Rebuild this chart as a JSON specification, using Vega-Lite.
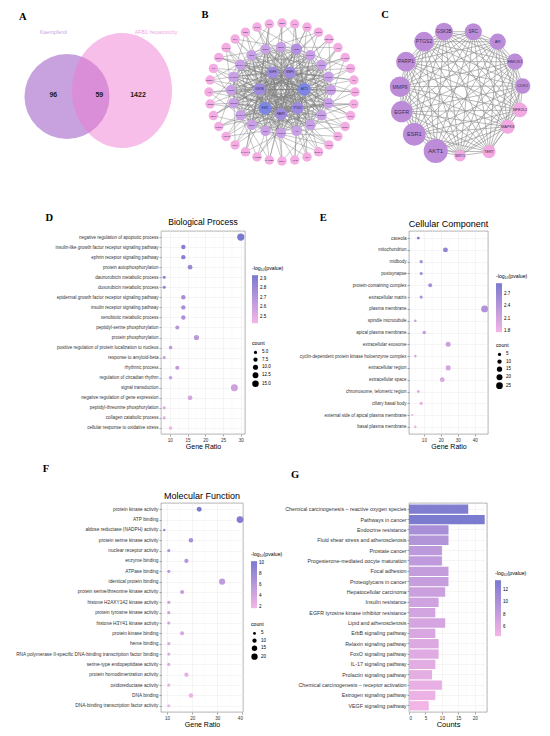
{
"$schema": "https://vega.github.io/schema/vega-lite/v6.json",
"background": "white",
"padding": 0,
"bounds": "flush",
"align": "none",
"columns": 4,
"spacing": 0,
"resolve": {"scale": {"color": "independent", "size": "independent"}},
"config": {
 "view": {"stroke": null},
 "font": "Liberation Sans",
 "concat": {"spacing": 0},
 "axis": {"labelFont": "Liberation Sans", "labelFontSize": 4.6, "labelColor": "#333333", "tickColor": "#4d4d4d", "tickSize": 2, "tickWidth": 0.5, "domain": false, "gridColor": "#ebebeb", "gridWidth": 0.5, "titleFont": "Liberation Sans", "titleFontWeight": "normal", "titleFontSize": 7, "titleColor": "#000", "labelPadding": 1, "titlePadding": 1},
 "legend": {"labelFont": "Liberation Sans", "titleFont": "Liberation Sans", "labelFontSize": 4.5, "titleFontSize": 5.2, "titleFontWeight": "normal", "titleColor": "#000", "labelColor": "#000", "gradientThickness": 6, "gradientStrokeWidth": 0, "titlePadding": 4, "labelOffset": 3},
 "title": {"font": "Liberation Sans", "fontWeight": "normal", "fontSize": 8.5, "color": "#000", "anchor": "middle"}
},
"datasets": {
 "bn": [
  {"id":"PTK2","x":355,"y":92,"g":"o","nb":["NFE2L2","AKT1","MMP9","NQO1"]},
  {"id":"CA2","x":353.9,"y":104,"g":"o","nb":["NQO1","ESR1","PTGS2","CCND1"]},
  {"id":"PIM1","x":350.6,"y":115.6,"g":"o","nb":["NQO1","EGFR","GSK3B","SIRT1"]},
  {"id":"TOP2A","x":345.2,"y":126.5,"g":"o","nb":["CCND1","MMP9","PARP1","AR"]},
  {"id":"NOX4","x":337.9,"y":136.4,"g":"o","nb":["CCND1","PTGS2","AKT1","HMOX1"]},
  {"id":"ALOX5","x":328.9,"y":144.9,"g":"o","nb":["SIRT1","GSK3B","ESR1","PGR"]},
  {"id":"SLC2A1","x":318.5,"y":151.8,"g":"o","nb":["SIRT1","PARP1","EGFR","TERT"]},
  {"id":"XDH","x":307,"y":156.9,"g":"o","nb":["AR","AKT1","MMP9","CYP1A1"]},
  {"id":"ACHE","x":294.7,"y":160,"g":"o","nb":["AR","ESR1","PTGS2","NQO1"]},
  {"id":"DPP4","x":282,"y":161,"g":"o","nb":["HMOX1","EGFR","GSK3B","CCND1"]},
  {"id":"CYP1B1","x":269.3,"y":160,"g":"o","nb":["PGR","MMP9","PARP1","ABCG2"]},
  {"id":"AKR1B1","x":257,"y":156.9,"g":"o","nb":["PGR","PTGS2","AKT1","MMP2"]},
  {"id":"CYP19A1","x":245.5,"y":151.8,"g":"o","nb":["TERT","GSK3B","ESR1","HMOX1"]},
  {"id":"PLK1","x":235.1,"y":144.9,"g":"o","nb":["TERT","PARP1","EGFR","MAPK8"]},
  {"id":"AURKB","x":226.1,"y":136.4,"g":"o","nb":["CYP1A1","AKT1","MMP9","PGR"]},
  {"id":"CHEK1","x":218.8,"y":126.5,"g":"o","nb":["CYP1A1","ESR1","PTGS2","HSP90AA1"]},
  {"id":"CDK6","x":213.4,"y":115.6,"g":"o","nb":["ABCG2","EGFR","GSK3B","TERT"]},
  {"id":"ABCB1","x":210.1,"y":104,"g":"o","nb":["ABCG2","MMP9","PARP1","MET"]},
  {"id":"AHR","x":209,"y":92,"g":"o","nb":["MMP2","PTGS2","AKT1","CYP1A1"]},
  {"id":"ESRRA","x":210.1,"y":80,"g":"o","nb":["MAPK8","GSK3B","ESR1","SGK1"]},
  {"id":"F2","x":213.4,"y":68.4,"g":"o","nb":["MAPK8","PARP1","EGFR","ABCG2"]},
  {"id":"ADORA1","x":218.8,"y":57.5,"g":"o","nb":["HSP90AA1","AKT1","MMP9","CDK1"]},
  {"id":"CYP1A2","x":226.1,"y":47.6,"g":"o","nb":["HSP90AA1","ESR1","PTGS2","MMP2"]},
  {"id":"SYK","x":235.1,"y":39.1,"g":"o","nb":["MET","EGFR","GSK3B","SRC"]},
  {"id":"INSR","x":245.5,"y":32.2,"g":"o","nb":["MET","MMP9","PARP1","MAPK8"]},
  {"id":"GLO1","x":257,"y":27.1,"g":"o","nb":["SGK1","PTGS2","AKT1","PIK3CA"]},
  {"id":"MPO","x":269.3,"y":24,"g":"o","nb":["SGK1","GSK3B","ESR1","HSP90AA1"]},
  {"id":"SELE","x":282,"y":23,"g":"o","nb":["CDK1","PARP1","EGFR","CDK2"]},
  {"id":"TYR","x":294.7,"y":24,"g":"o","nb":["SRC","AKT1","MMP9","MET"]},
  {"id":"CD38","x":307,"y":27.1,"g":"o","nb":["SRC","ESR1","PTGS2","IGF1R"]},
  {"id":"BCL2","x":318.5,"y":32.2,"g":"o","nb":["PIK3CA","EGFR","GSK3B","SGK1"]},
  {"id":"HSD17B1","x":328.9,"y":39.1,"g":"o","nb":["PIK3CA","MMP9","PARP1","NFE2L2"]},
  {"id":"ALPL","x":337.9,"y":47.6,"g":"o","nb":["CDK2","PTGS2","AKT1","CDK1"]},
  {"id":"CYP2C9","x":345.2,"y":57.5,"g":"o","nb":["CDK2","GSK3B","ESR1","NQO1"]},
  {"id":"PRKCA","x":350.6,"y":68.4,"g":"o","nb":["IGF1R","PARP1","EGFR","SRC"]},
  {"id":"KIT","x":353.9,"y":80,"g":"o","nb":["IGF1R","AKT1","MMP9","CCND1"]},
  {"id":"NFE2L2","x":331,"y":90,"g":"m","nb":["HMOX1","ABCG2","SIRT1","TERT"]},
  {"id":"NQO1","x":328.6,"y":103.3,"g":"m","nb":["PGR","MMP2","AR","CYP1A1"]},
  {"id":"CCND1","x":321.5,"y":115.3,"g":"m","nb":["TERT","MAPK8","HMOX1","ABCG2"]},
  {"id":"SIRT1","x":310.4,"y":124.8,"g":"m","nb":["CYP1A1","HSP90AA1","PGR","MMP2"]},
  {"id":"AR","x":296.5,"y":130.9,"g":"m","nb":["ABCG2","MET","TERT","MAPK8"]},
  {"id":"HMOX1","x":281,"y":133,"g":"m","nb":["MMP2","SGK1","CYP1A1","HSP90AA1"]},
  {"id":"PGR","x":265.5,"y":130.9,"g":"m","nb":["MAPK8","CDK1","ABCG2","MET"]},
  {"id":"TERT","x":251.6,"y":124.8,"g":"m","nb":["HSP90AA1","SRC","MMP2","SGK1"]},
  {"id":"CYP1A1","x":240.5,"y":115.3,"g":"m","nb":["MET","PIK3CA","MAPK8","CDK1"]},
  {"id":"ABCG2","x":233.4,"y":103.3,"g":"m","nb":["SGK1","CDK2","HSP90AA1","SRC"]},
  {"id":"MMP2","x":231,"y":90,"g":"m","nb":["CDK1","IGF1R","MET","PIK3CA"]},
  {"id":"MAPK8","x":233.4,"y":76.7,"g":"m","nb":["SRC","NFE2L2","SGK1","CDK2"]},
  {"id":"HSP90AA1","x":240.5,"y":64.7,"g":"m","nb":["PIK3CA","NQO1","CDK1","IGF1R"]},
  {"id":"MET","x":251.6,"y":55.2,"g":"m","nb":["CDK2","CCND1","SRC","NFE2L2"]},
  {"id":"SGK1","x":265.5,"y":49.1,"g":"m","nb":["IGF1R","SIRT1","PIK3CA","NQO1"]},
  {"id":"CDK1","x":281,"y":47,"g":"m","nb":["NFE2L2","AR","CDK2","CCND1"]},
  {"id":"SRC","x":296.5,"y":49.1,"g":"m2","nb":["NQO1","HMOX1","IGF1R","SIRT1"]},
  {"id":"PIK3CA","x":310.4,"y":55.2,"g":"m","nb":["CCND1","PGR","NFE2L2","AR"]},
  {"id":"CDK2","x":321.5,"y":64.7,"g":"m","nb":["SIRT1","TERT","NQO1","HMOX1"]},
  {"id":"IGF1R","x":328.6,"y":76.7,"g":"m","nb":["AR","CYP1A1","CCND1","PGR"]},
  {"id":"AKT1","x":304.3,"y":89.3,"g":"h","nb":["NFE2L2","NQO1","CCND1","SIRT1","AR","HMOX1","PGR","TERT","CYP1A1","ABCG2","MMP2","MAPK8","HSP90AA1","MET","SGK1","CDK1","SRC","PIK3CA","CDK2","IGF1R","ESR1","EGFR","MMP9","GSK3B","PTGS2","PARP1"]},
  {"id":"ESR1","x":265,"y":108.3,"g":"h","nb":["NFE2L2","NQO1","CCND1","SIRT1","AR","HMOX1","PGR","TERT","CYP1A1","ABCG2","MMP2","MAPK8","HSP90AA1","MET","SGK1","CDK1","SRC","PIK3CA","CDK2","IGF1R","EGFR","MMP9","GSK3B","PTGS2","PARP1"]},
  {"id":"EGFR","x":272.7,"y":72.5,"g":"i","nb":["NFE2L2","NQO1","CCND1","SIRT1","AR","HMOX1","PGR","TERT","CYP1A1","ABCG2","MMP2","MAPK8","HSP90AA1","MET","SGK1","CDK1","SRC","PIK3CA","CDK2","IGF1R","MMP9","GSK3B","PTGS2","PARP1"]},
  {"id":"MMP9","x":290,"y":72.5,"g":"i","nb":["NFE2L2","NQO1","CCND1","SIRT1","AR","HMOX1","PGR","TERT","CYP1A1","ABCG2","MMP2","MAPK8","HSP90AA1","MET","SGK1","CDK1","SRC","PIK3CA","CDK2","IGF1R","GSK3B","PTGS2","PARP1"]},
  {"id":"GSK3B","x":259.5,"y":89.3,"g":"i","nb":["NFE2L2","NQO1","CCND1","SIRT1","AR","HMOX1","PGR","TERT","CYP1A1","ABCG2","MMP2","MAPK8","HSP90AA1","MET","SGK1","CDK1","SRC","PIK3CA","CDK2","IGF1R","PTGS2","PARP1"]},
  {"id":"PTGS2","x":297.7,"y":108.3,"g":"i","nb":["NFE2L2","NQO1","CCND1","SIRT1","AR","HMOX1","PGR","TERT","CYP1A1","ABCG2","MMP2","MAPK8","HSP90AA1","MET","SGK1","CDK1","SRC","PIK3CA","CDK2","IGF1R","PARP1"]},
  {"id":"PARP1","x":281,"y":114,"g":"i","nb":["NFE2L2","NQO1","CCND1","SIRT1","AR","HMOX1","PGR","TERT","CYP1A1","ABCG2","MMP2","MAPK8","HSP90AA1","MET","SGK1","CDK1","SRC","PIK3CA","CDK2","IGF1R"]}
 ],
 "cn": [
  {"id":"GSK3B","x":444,"y":31.7,"deg":10,"g":"p","nb":["SRC","AR","HMOX1","CDK2","NFE2L2","MAPK8","TERT","SIRT1","AKT1","ESR1","EGFR","MMP9","PARP1","PTGS2"]},
  {"id":"SRC","x":473.3,"y":31.7,"deg":9.5,"g":"p","nb":["AR","HMOX1","CDK2","NFE2L2","MAPK8","TERT","SIRT1","AKT1","ESR1","EGFR","MMP9","PARP1","PTGS2"]},
  {"id":"AR","x":497.7,"y":41.7,"deg":9,"g":"p","nb":["HMOX1","CDK2","NFE2L2","MAPK8","TERT","SIRT1","AKT1","ESR1","EGFR","MMP9","PARP1","PTGS2"]},
  {"id":"HMOX1","x":515,"y":61.7,"deg":9,"g":"p","nb":["CDK2","NFE2L2","MAPK8","TERT","SIRT1","AKT1","ESR1","EGFR","MMP9","PARP1","PTGS2"]},
  {"id":"CDK2","x":522.7,"y":86,"deg":8.6,"g":"p","nb":["NFE2L2","MAPK8","TERT","SIRT1","AKT1","ESR1","EGFR","MMP9","PARP1","PTGS2"]},
  {"id":"NFE2L2","x":520,"y":110,"deg":8.2,"g":"k","nb":["MAPK8","TERT","SIRT1","AKT1","ESR1","EGFR","MMP9","PARP1","PTGS2"]},
  {"id":"MAPK8","x":507.7,"y":126.7,"deg":8,"g":"k","nb":["TERT","SIRT1","AKT1","ESR1","EGFR","MMP9","PARP1","PTGS2"]},
  {"id":"TERT","x":489,"y":151.7,"deg":7.6,"g":"k","nb":["SIRT1","AKT1","ESR1","EGFR","MMP9","PARP1","PTGS2"]},
  {"id":"SIRT1","x":460,"y":155.7,"deg":7,"g":"k","nb":["AKT1","ESR1","EGFR","MMP9","PARP1","PTGS2"]},
  {"id":"AKT1","x":435.7,"y":151,"deg":14,"g":"p","nb":["ESR1","EGFR","MMP9","PARP1","PTGS2"]},
  {"id":"ESR1","x":414.3,"y":134.3,"deg":13,"g":"p","nb":["EGFR","MMP9","PARP1","PTGS2"]},
  {"id":"EGFR","x":401.7,"y":111.7,"deg":12,"g":"p","nb":["MMP9","PARP1","PTGS2"]},
  {"id":"MMP9","x":400,"y":86.7,"deg":11.5,"g":"p","nb":["PARP1","PTGS2"]},
  {"id":"PARP1","x":406,"y":61.7,"deg":11,"g":"p","nb":["PTGS2"]},
  {"id":"PTGS2","x":424,"y":41.7,"deg":11,"g":"p","nb":[]}
 ],
 "bp": [
  {"term":"negative regulation of apoptotic process","ratio":30.0,"count":18,"lp":2.94},
  {"term":"insulin-like growth factor receptor signaling pathway","ratio":13.8,"count":8,"lp":2.9},
  {"term":"ephrin receptor signaling pathway","ratio":13.8,"count":8,"lp":2.88},
  {"term":"protein autophosphorylation","ratio":15.7,"count":9,"lp":2.8},
  {"term":"daunorubicin metabolic process","ratio":8.4,"count":5,"lp":2.86},
  {"term":"doxorubicin metabolic process","ratio":8.4,"count":5,"lp":2.86},
  {"term":"epidermal growth factor receptor signaling pathway","ratio":13.8,"count":8,"lp":2.76},
  {"term":"insulin receptor signaling pathway","ratio":13.8,"count":8,"lp":2.76},
  {"term":"xenobiotic metabolic process","ratio":13.8,"count":8,"lp":2.74},
  {"term":"peptidyl-serine phosphorylation","ratio":12.1,"count":7,"lp":2.7},
  {"term":"protein phosphorylation","ratio":17.5,"count":10,"lp":2.68},
  {"term":"positive regulation of protein localization to nucleus","ratio":10.2,"count":6,"lp":2.66},
  {"term":"response to amyloid-beta","ratio":8.4,"count":5,"lp":2.62},
  {"term":"rhythmic process","ratio":12.1,"count":7,"lp":2.66},
  {"term":"regulation of circadian rhythm","ratio":10.2,"count":6,"lp":2.62},
  {"term":"signal transduction","ratio":28.2,"count":17,"lp":2.6},
  {"term":"negative regulation of gene expression","ratio":15.7,"count":9,"lp":2.56},
  {"term":"peptidyl-threonine phosphorylation","ratio":8.4,"count":5,"lp":2.52},
  {"term":"collagen catabolic process","ratio":8.4,"count":5,"lp":2.5},
  {"term":"cellular response to oxidative stress","ratio":10.2,"count":6,"lp":2.45}
 ],
 "cc": [
  {"term":"caveola","ratio":6.7,"count":4,"lp":2.95},
  {"term":"mitochondrion","ratio":22.7,"count":13,"lp":2.75},
  {"term":"midbody","ratio":8.4,"count":5,"lp":2.62},
  {"term":"postsynapse","ratio":8.4,"count":5,"lp":2.6},
  {"term":"protein-containing complex","ratio":13.7,"count":8,"lp":2.55},
  {"term":"extracellular matrix","ratio":8.4,"count":5,"lp":2.5},
  {"term":"plasma membrane","ratio":45.8,"count":27,"lp":2.45},
  {"term":"spindle microtubule","ratio":4.9,"count":3,"lp":2.2},
  {"term":"apical plasma membrane","ratio":10.2,"count":6,"lp":2.3},
  {"term":"extracellular exosome","ratio":24.3,"count":14,"lp":2.2},
  {"term":"cyclin-dependent protein kinase holoenzyme complex","ratio":4.9,"count":3,"lp":2.05},
  {"term":"extracellular region","ratio":24.3,"count":14,"lp":2.1},
  {"term":"extracellular space","ratio":20.8,"count":12,"lp":2.05},
  {"term":"chromosome, telomeric region","ratio":6.7,"count":4,"lp":1.95},
  {"term":"ciliary basal body","ratio":8.4,"count":5,"lp":1.9},
  {"term":"external side of apical plasma membrane","ratio":3.1,"count":2,"lp":1.85},
  {"term":"basal plasma membrane","ratio":4.9,"count":3,"lp":1.8}
 ],
 "mf": [
  {"term":"protein kinase activity","ratio":22.8,"count":13,"lp":10.2},
  {"term":"ATP binding","ratio":39.0,"count":23,"lp":9.8},
  {"term":"aldose reductase (NADPH) activity","ratio":8.9,"count":4,"lp":8.5},
  {"term":"protein serine kinase activity","ratio":19.5,"count":11,"lp":7.2},
  {"term":"nuclear receptor activity","ratio":10.7,"count":6,"lp":6.5},
  {"term":"enzyme binding","ratio":17.7,"count":10,"lp":6.2},
  {"term":"ATPase binding","ratio":10.7,"count":6,"lp":6.0},
  {"term":"identical protein binding","ratio":31.9,"count":19,"lp":5.6},
  {"term":"protein serine/threonine kinase activity","ratio":16.0,"count":9,"lp":5.2},
  {"term":"histone H2AXY142 kinase activity","ratio":10.7,"count":6,"lp":4.6},
  {"term":"protein tyrosine kinase activity","ratio":10.7,"count":6,"lp":4.4},
  {"term":"histone H3Y41 kinase activity","ratio":10.7,"count":6,"lp":4.2},
  {"term":"protein kinase binding","ratio":16.0,"count":9,"lp":3.8},
  {"term":"heme binding","ratio":10.7,"count":6,"lp":3.5},
  {"term":"RNA polymerase II-specific DNA-binding transcription factor binding","ratio":10.7,"count":6,"lp":3.3},
  {"term":"serine-type endopeptidase activity","ratio":10.7,"count":6,"lp":3.1},
  {"term":"protein homodimerization activity","ratio":17.7,"count":10,"lp":2.8},
  {"term":"oxidoreductase activity","ratio":10.7,"count":6,"lp":2.5},
  {"term":"DNA binding","ratio":19.5,"count":11,"lp":2.2},
  {"term":"DNA-binding transcription factor activity","ratio":10.7,"count":6,"lp":1.9}
 ],
 "kegg": [
  {"term":"Chemical carcinogenesis – reactive oxygen species","count":18,"lp":13.2},
  {"term":"Pathways in cancer","count":23,"lp":13.6},
  {"term":"Endocrine resistance","count":12,"lp":10.3},
  {"term":"Fluid shear stress and atherosclerosis","count":12,"lp":9.6},
  {"term":"Prostate cancer","count":10,"lp":8.8},
  {"term":"Progesterone-mediated oocyte maturation","count":10,"lp":8.6},
  {"term":"Focal adhesion","count":12,"lp":8.2},
  {"term":"Proteoglycans in cancer","count":12,"lp":8.0},
  {"term":"Hepatocellular carcinoma","count":11,"lp":7.7},
  {"term":"Insulin resistance","count":9,"lp":7.3},
  {"term":"EGFR tyrosine kinase inhibitor resistance","count":8,"lp":7.1},
  {"term":"Lipid and atherosclerosis","count":11,"lp":6.9},
  {"term":"ErbB signaling pathway","count":8,"lp":6.6},
  {"term":"Relaxin signaling pathway","count":9,"lp":6.3},
  {"term":"FoxO signaling pathway","count":9,"lp":6.1},
  {"term":"IL-17 signaling pathway","count":8,"lp":5.8},
  {"term":"Prolactin signaling pathway","count":7,"lp":5.6},
  {"term":"Chemical carcinogenesis – receptor activation","count":10,"lp":5.4},
  {"term":"Estrogen signaling pathway","count":8,"lp":5.0},
  {"term":"VEGF signaling pathway","count":6,"lp":4.6}
 ]
},
"concat": [
 {
  "width": 161, "height": 231,
  "encoding": {
   "x": {"field": "x", "type": "quantitative", "scale": {"domain": [0, 161], "nice": false, "zero": false}, "axis": null},
   "y": {"field": "y", "type": "quantitative", "scale": {"domain": [0, 231], "nice": false, "zero": false, "reverse": true}, "axis": null}
  },
  "resolve": {"scale": {"color": "independent", "size": "independent"}},
  "layer": [
   {"data": {"values": [{"x": 67, "y": 96.5}]}, "mark": {"type": "point", "shape": "circle", "size": 7238, "filled": true, "color": "#C8A2DE", "opacity": 1}},
   {"data": {"values": [{"x": 122, "y": 90.5}]}, "mark": {"type": "point", "shape": "M 0.87 0 C 0.87 0.5523 0.4805 1 0 1 C -0.4805 1 -0.87 0.5523 -0.87 0 C -0.87 -0.5523 -0.4805 -1 0 -1 C 0.4805 -1 0.87 -0.5523 0.87 0 Z", "size": 13225, "filled": true, "color": "#EF7AD2", "opacity": 0.49}},
   {"data": {"values": [{"x": 53.5, "y": 31.7, "t": "Kaempferol"}]}, "mark": {"type": "text", "fontSize": 5.3, "color": "#C9A3E2"}, "encoding": {"text": {"field": "t"}}},
   {"data": {"values": [{"x": 156, "y": 31.7, "t": "AFB1 hepatoxicity"}]}, "mark": {"type": "text", "fontSize": 5.3, "color": "#F2A6E2"}, "encoding": {"text": {"field": "t"}}},
   {"data": {"values": [{"x": 53.3, "y": 94.5, "t": "96"}, {"x": 99.3, "y": 94.5, "t": "59"}, {"x": 138, "y": 94.5, "t": "1422"}]}, "mark": {"type": "text", "fontSize": 7, "fontWeight": "bold", "color": "#1a1a1a"}, "encoding": {"text": {"field": "t"}}},
   {"data": {"name": "bn"}, "transform": [{"flatten": ["nb"]}, {"lookup": "nb", "from": {"data": {"name": "bn"}, "key": "id", "fields": ["x", "y"]}, "as": ["x2", "y2"]}], "mark": {"type": "rule", "color": "#7a7a7a", "strokeWidth": 0.5, "opacity": 0.85}, "encoding": {"x2": {"field": "x2"}, "y2": {"field": "y2"}}},
   {"data": {"name": "bn"}, "mark": {"type": "point", "shape": "circle", "filled": true, "opacity": 1}, "encoding": {
     "color": {"field": "g", "type": "nominal", "scale": {"domain": ["o", "m", "m2", "i", "h"], "range": ["#F4ADE3", "#C9A0E6", "#B58FE0", "#A08ADF", "#7E86E3"]}, "legend": null},
     "size": {"field": "g", "type": "ordinal", "scale": {"domain": ["o", "m", "m2", "i", "h"], "range": [90, 165, 200, 300, 400]}, "legend": null}}},
   {"data": {"name": "bn"}, "mark": {"type": "text", "color": "#2f2a5c"}, "encoding": {
     "text": {"field": "id"},
     "size": {"field": "g", "type": "ordinal", "scale": {"domain": ["o", "m", "m2", "i", "h"], "range": [2.2, 2.7, 3.1, 4.2, 4.7]}, "legend": null}}},
   {"data": {"name": "cn"}, "transform": [{"flatten": ["nb"]}, {"lookup": "nb", "from": {"data": {"name": "cn"}, "key": "id", "fields": ["x", "y"]}, "as": ["x2", "y2"]}], "mark": {"type": "rule", "color": "#8f8f8f", "strokeWidth": 0.7, "opacity": 0.9}, "encoding": {"x2": {"field": "x2"}, "y2": {"field": "y2"}}},
   {"data": {"name": "cn"}, "mark": {"type": "point", "shape": "circle", "filled": true, "opacity": 1}, "encoding": {
     "color": {"field": "g", "type": "nominal", "scale": {"domain": ["p", "k"], "range": ["#BC8CD9", "#F2A8E1"]}, "legend": null},
     "size": {"field": "deg", "type": "quantitative", "scale": {"domain": [7, 14], "range": [135, 580]}, "legend": null}}},
   {"data": {"name": "cn"}, "mark": {"type": "text", "color": "#3a2d55"}, "encoding": {
     "text": {"field": "id"},
     "size": {"field": "deg", "type": "quantitative", "scale": {"domain": [7, 14], "range": [3.6, 6]}, "legend": null}}},
   {"data": {"values": [{"x": 22.7, "y": 16.7, "t": "A"}, {"x": 205, "y": 15, "t": "B"}, {"x": 385, "y": 15, "t": "C"}, {"x": 49.3, "y": 218.3, "t": "D"}, {"x": 323.3, "y": 218.3, "t": "E"}]}, "mark": {"type": "text", "font": "Liberation Serif", "fontWeight": "bold", "fontSize": 10.5, "color": "#000"}, "encoding": {"text": {"field": "t"}}}
  ]
 },
 {"width": 84, "height": 231, "data": {"values": [{"a": 1}]}, "mark": {"type": "point", "opacity": 0}},
 {"width": 152, "height": 231, "data": {"values": [{"a": 1}]}, "mark": {"type": "point", "opacity": 0}},
 {"width": 153, "height": 231, "data": {"values": [{"a": 1}]}, "mark": {"type": "point", "opacity": 0}},
 {"width": 161, "height": 203, "data": {"values": [{"a": 1}]}, "mark": {"type": "point", "opacity": 0}},
 {
  "width": 84, "height": 203,
  "view": {"stroke": "#7f7f7f", "strokeWidth": 0.6},
  "title": {"text": "Biological Process", "fontSize": 8.5, "offset": 4},
  "layer": [
   {"data": {"values": [{"m": 7.5}, {"m": 12.5}, {"m": 17.5}, {"m": 22.5}, {"m": 27.5}]}, "mark": {"type": "rule", "color": "#f4f4f4", "strokeWidth": 0.4},
    "encoding": {"x": {"field": "m", "type": "quantitative", "scale": {"domain": [7.5, 31.2], "nice": false, "zero": false}, "axis": {"values": [10, 15, 20, 25, 30], "title": "Gene Ratio", "grid": true}}}},
   {"data": {"name": "bp"}, "mark": {"type": "circle", "opacity": 1},
    "encoding": {
     "y": {"field": "term", "type": "nominal", "sort": null, "scale": {"type": "point", "padding": 0.6}, "axis": {"title": null, "grid": true, "labelFontSize": 4.5, "labelLimit": 300}},
     "x": {"field": "ratio", "type": "quantitative", "scale": {"domain": [7.5, 31.2], "nice": false, "zero": false}, "axis": {"values": [10, 15, 20, 25, 30], "title": "Gene Ratio", "grid": true}},
     "size": {"field": "count", "type": "quantitative", "scale": {"domain": [5, 18], "range": [10, 52]}, "legend": {"title": "count", "orient": "none", "legendX": 91, "legendY": 110, "values": [5, 7.5, 10, 12.5, 15], "format": ".1f", "symbolFillColor": "#000", "symbolStrokeColor": "#000", "symbolStrokeWidth": 0, "symbolType": "circle", "rowPadding": 2}},
     "color": {"field": "lp", "type": "quantitative", "scale": {"domain": [2.43, 2.94], "range": ["#f4b6e6", "#7a7acf"], "interpolate": "lab"}, "legend": {"title": "-log₁₀(pvalue)", "orient": "none", "legendX": 91, "legendY": 35, "values": [2.5, 2.6, 2.7, 2.8, 2.9], "format": ".1f", "gradientLength": 48, "direction": "vertical"}}
    }}
  ]
 },
 {"width": 152, "height": 203, "data": {"values": [{"a": 1}]}, "mark": {"type": "point", "opacity": 0}},
 {
  "width": 79, "height": 203,
  "view": {"stroke": "#7f7f7f", "strokeWidth": 0.6},
  "title": {"text": "Cellular Component", "fontSize": 9, "offset": 2},
  "layer": [
   {"data": {"values": [{"m": 5}, {"m": 15}, {"m": 25}, {"m": 35}, {"m": 45}]}, "mark": {"type": "rule", "color": "#f4f4f4", "strokeWidth": 0.4},
    "encoding": {"x": {"field": "m", "type": "quantitative", "scale": {"domain": [1.2, 47.8], "nice": false, "zero": false}, "axis": {"values": [10, 20, 30, 40], "title": "Gene Ratio", "grid": true}}}},
   {"data": {"name": "cc"}, "mark": {"type": "circle", "opacity": 1},
    "encoding": {
     "y": {"field": "term", "type": "nominal", "sort": null, "scale": {"type": "point", "padding": 0.6}, "axis": {"title": null, "grid": true, "labelFontSize": 4.5, "labelLimit": 300}},
     "x": {"field": "ratio", "type": "quantitative", "scale": {"domain": [1.2, 47.8], "nice": false, "zero": false}, "axis": {"values": [10, 20, 30, 40], "title": "Gene Ratio", "grid": true}},
     "size": {"field": "count", "type": "quantitative", "scale": {"domain": [2, 27], "range": [5, 48]}, "legend": {"title": "count", "orient": "none", "legendX": 87, "legendY": 112, "values": [5, 10, 15, 20, 25], "symbolFillColor": "#000", "symbolStrokeColor": "#000", "symbolStrokeWidth": 0, "symbolType": "circle", "rowPadding": 2}},
     "color": {"field": "lp", "type": "quantitative", "scale": {"domain": [1.77, 2.97], "range": ["#f4b6e6", "#7a7acf"], "interpolate": "lab"}, "legend": {"title": "-log₁₀(pvalue)", "orient": "none", "legendX": 87, "legendY": 43, "values": [1.8, 2.1, 2.4, 2.7], "format": ".1f", "gradientLength": 49, "direction": "vertical"}}
    }}
  ]
 },
 {
  "width": 161, "height": 69,
  "data": {"values": [{"x": 46, "y": 469, "t": "F"}, {"x": 295, "y": 475, "t": "G"}]},
  "mark": {"type": "text", "font": "Liberation Serif", "fontWeight": "bold", "fontSize": 10.5, "color": "#000"},
  "encoding": {
   "x": {"field": "x", "type": "quantitative", "scale": {"domain": [0, 161], "nice": false, "zero": false}, "axis": null},
   "y": {"field": "y", "type": "quantitative", "scale": {"domain": [434, 503], "nice": false, "zero": false, "reverse": true}, "axis": null},
   "text": {"field": "t"}
  }
 },
 {"width": 84, "height": 69, "data": {"values": [{"a": 1}]}, "mark": {"type": "point", "opacity": 0}},
 {"width": 152, "height": 69, "data": {"values": [{"a": 1}]}, "mark": {"type": "point", "opacity": 0}},
 {"width": 153, "height": 69, "data": {"values": [{"a": 1}]}, "mark": {"type": "point", "opacity": 0}},
 {"width": 155, "height": 209, "data": {"values": [{"a": 1}]}, "mark": {"type": "point", "opacity": 0}},
 {
  "width": 82, "height": 209,
  "view": {"stroke": "#7f7f7f", "strokeWidth": 0.6},
  "title": {"text": "Molecular Function", "fontSize": 9, "offset": 2},
  "layer": [
   {"data": {"values": [{"m": 15}, {"m": 25}, {"m": 35}]}, "mark": {"type": "rule", "color": "#f4f4f4", "strokeWidth": 0.4},
    "encoding": {"x": {"field": "m", "type": "quantitative", "scale": {"domain": [7.6, 40.2], "nice": false, "zero": false}, "axis": {"values": [10, 20, 30, 40], "title": "Gene Ratio", "grid": true}}}},
   {"data": {"name": "mf"}, "mark": {"type": "circle", "opacity": 1},
    "encoding": {
     "y": {"field": "term", "type": "nominal", "sort": null, "scale": {"type": "point", "padding": 0.6}, "axis": {"title": null, "grid": true, "labelFontSize": 4.75, "labelLimit": 300}},
     "x": {"field": "ratio", "type": "quantitative", "scale": {"domain": [7.6, 40.2], "nice": false, "zero": false}, "axis": {"values": [10, 20, 30, 40], "title": "Gene Ratio", "grid": true}},
     "size": {"field": "count", "type": "quantitative", "scale": {"domain": [4, 23], "range": [6, 46]}, "legend": {"title": "count", "orient": "none", "legendX": 90, "legendY": 119, "values": [5, 10, 15, 20], "symbolFillColor": "#000", "symbolStrokeColor": "#000", "symbolStrokeWidth": 0, "symbolType": "circle", "rowPadding": 2}},
     "color": {"field": "lp", "type": "quantitative", "scale": {"domain": [1.8, 10.3], "range": ["#f4b6e6", "#7a7acf"], "interpolate": "lab"}, "legend": {"title": "-log₁₀(pvalue)", "orient": "none", "legendX": 90, "legendY": 49, "values": [2, 4, 6, 8, 10], "format": "d", "gradientLength": 47, "direction": "vertical"}}
    }}
  ]
 },
 {"width": 164, "height": 209, "data": {"values": [{"a": 1}]}, "mark": {"type": "point", "opacity": 0}},
 {
  "width": 78, "height": 209,
  "view": {"stroke": "#7f7f7f", "strokeWidth": 0.6},
  "layer": [
   {"data": {"values": [{"m": 2.5}, {"m": 7.5}, {"m": 12.5}, {"m": 17.5}, {"m": 22.5}]}, "mark": {"type": "rule", "color": "#f4f4f4", "strokeWidth": 0.4},
    "encoding": {"x": {"field": "m", "type": "quantitative", "scale": {"domain": [0, 23.7], "nice": false, "zero": false}, "axis": {"values": [0, 5, 10, 15, 20], "title": "Counts", "titleFontSize": 7.5, "grid": true}}}},
   {"data": {"name": "kegg"}, "mark": {"type": "bar"},
    "encoding": {
     "y": {"field": "term", "type": "nominal", "sort": null, "scale": {"type": "band", "paddingInner": 0.1, "paddingOuter": 0.15}, "axis": {"title": null, "grid": true, "bandPosition": 0.5, "labelFontSize": 5.3, "labelLimit": 300}},
     "x": {"field": "count", "type": "quantitative", "scale": {"domain": [0, 23.7], "nice": false, "zero": false}, "axis": {"values": [0, 5, 10, 15, 20], "title": "Counts", "titleFontSize": 7.5, "grid": true}},
     "color": {"field": "lp", "type": "quantitative", "scale": {"domain": [4.4, 13.7], "range": ["#f4b6e6", "#7a7acf"], "interpolate": "lab"}, "legend": {"title": "-log₁₀(pvalue)", "orient": "none", "legendX": 86, "legendY": 68, "values": [6, 8, 10, 12], "format": "d", "gradientLength": 56, "direction": "vertical"}}
    }}
  ]
 }
]
}
